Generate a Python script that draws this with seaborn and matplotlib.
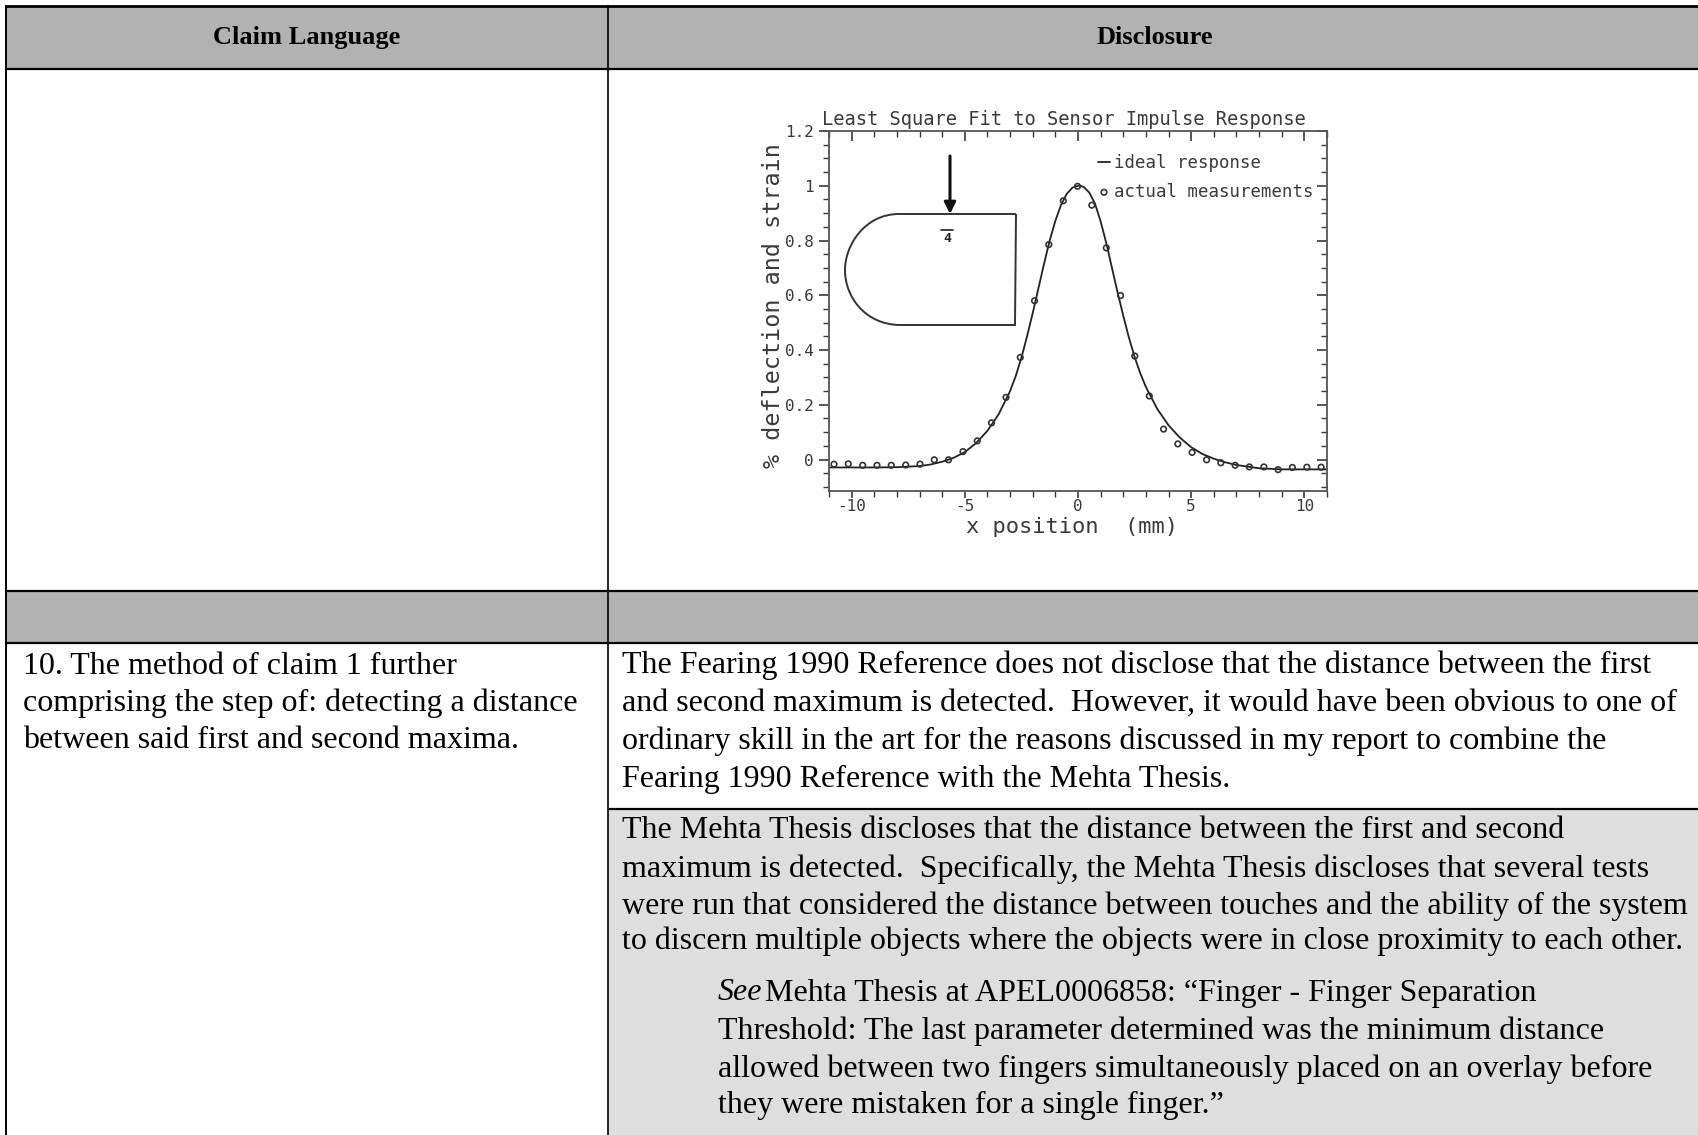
import matplotlib
matplotlib.use('Agg')
import matplotlib.pyplot as plt
from matplotlib.path import Path
from matplotlib.patches import PathPatch, Rectangle
from matplotlib.ticker import MultipleLocator
import pandas as pd
import seaborn as sns

# measured points
meas_x = [-10.78, -10.15, -9.51, -8.88, -8.25, -7.61, -6.98, -6.35, -5.72, -5.08, -4.45, -3.82,
          -3.18, -2.55, -1.92, -1.29, -0.65, -0.02, 0.61, 1.25, 1.88, 2.51, 3.15, 3.78, 4.41,
          5.04, 5.68, 6.31, 6.94, 7.57, 8.21, 8.84, 9.47, 10.11, 10.74]
meas_y = [-0.017, -0.016, -0.021, -0.021, -0.021, -0.020, -0.017, -0.001, -0.001, 0.029, 0.068, 0.134,
          0.227, 0.373, 0.580, 0.785, 0.945, 0.998, 0.929, 0.773, 0.599, 0.378, 0.232, 0.111, 0.057,
          0.026, -0.001, -0.012, -0.021, -0.027, -0.027, -0.037, -0.029, -0.028, -0.028]

# ideal response curve
ideal_x = [-10.95, -9, -8, -7, -6.5, -6, -5.5, -5, -4.5, -4, -3.5, -3, -2.75, -2.5, -2.25, -2, -1.75,
           -1.5, -1.25, -1, -0.75, -0.5, -0.25, 0, 0.1, 0.25, 0.5, 0.75, 1, 1.25, 1.5, 1.75, 2, 2.25,
           2.5, 2.75, 3, 3.5, 4, 4.5, 5, 5.5, 6, 6.5, 7, 8, 9, 10.95]
ideal_y = [-0.029, -0.029, -0.028, -0.024, -0.018, -0.008, 0.006, 0.027, 0.060, 0.105, 0.166, 0.250,
           0.305, 0.372, 0.450, 0.535, 0.625, 0.715, 0.800, 0.872, 0.930, 0.970, 0.993, 1.0, 1.0,
           0.996, 0.975, 0.935, 0.870, 0.790, 0.700, 0.610, 0.525, 0.445, 0.375, 0.315, 0.265, 0.185,
           0.125, 0.080, 0.045, 0.020, 0.003, -0.010, -0.020, -0.032, -0.036, -0.036]

ytick_vals = [0, 0.2, 0.4, 0.6, 0.8, 1, 1.2]
ytick_labels = ['0', '0.2', '0.4', '0.6', '0.8', '1', '1.2']
xtick_vals = [-10, -5, 0, 5, 10]
xtick_labels = ['-10', '-5', '0', '5', '10']

left_lines = ['10. The method of claim 1 further',
              'comprising the step of: detecting a distance',
              'between said first and second maxima.']
fearing_lines = ['The Fearing 1990 Reference does not disclose that the distance between the first',
                 'and second maximum is detected.  However, it would have been obvious to one of',
                 'ordinary skill in the art for the reasons discussed in my report to combine the',
                 'Fearing 1990 Reference with the Mehta Thesis.']
mehta_lines = ['The Mehta Thesis discloses that the distance between the first and second',
               'maximum is detected.  Specifically, the Mehta Thesis discloses that several tests',
               'were run that considered the distance between touches and the ability of the system',
               'to discern multiple objects where the objects were in close proximity to each other.']
quote_lines = ['Mehta Thesis at APEL0006858: \u201cFinger - Finger Separation',
               'Threshold: The last parameter determined was the minimum distance',
               'allowed between two fingers simultaneously placed on an overlay before',
               'they were mistaken for a single finger.\u201d']

sns.set_style('ticks')
plt.rcParams['font.family'] = ['Liberation Serif', 'DejaVu Serif']
plt.rcParams['text.color'] = 'black'

W, H = 1699, 1135
fig = plt.figure(figsize=(W / 100, H / 100), dpi=100, facecolor='white')

# page axes in pixels for the table
page = fig.add_axes([0, 0, 1, 1])
page.set_xlim(0, W)
page.set_ylim(H, 0)
page.axis('off')

HEADER = '#b2b2b2'
LIGHT = '#dedede'
page.add_patch(Rectangle((6, 6), W - 6, 63, fc=HEADER, ec='none'))
page.add_patch(Rectangle((6, 591), W - 6, 52, fc=HEADER, ec='none'))
page.add_patch(Rectangle((608, 809), W - 608, H - 809, fc=LIGHT, ec='none'))

for y in [5.5, 69, 591, 643, 809]:
    x0 = 608 if y == 809 else 5
    page.plot([x0, W], [y, y], color='black', lw=1.6 if y != 5.5 else 2, solid_capstyle='butt')
page.plot([6, 6], [5, H], color='black', lw=1.4, solid_capstyle='butt')
page.plot([608, 608], [5, H], color='black', lw=1.2, solid_capstyle='butt')

BODY = 23.05
page.text(307, 37.5, 'Claim Language', fontsize=19, fontweight='bold', ha='center', va='center')
page.text(1155, 38, 'Disclosure', fontsize=19, fontweight='bold', ha='center', va='center')
for line, y in zip(left_lines, [666, 703, 741]):
    page.text(23, y, line, fontsize=BODY, va='center')
for line, y in zip(fearing_lines, [665, 703, 741, 779]):
    page.text(622, y, line, fontsize=BODY, va='center')
for line, y in zip(mehta_lines, [831, 869, 906, 941]):
    page.text(622, y, line, fontsize=BODY, va='center')
page.text(718, 993, 'See', fontsize=BODY, fontstyle='italic', va='center')
page.text(765, 993, quote_lines[0], fontsize=BODY, va='center')
for line, y in zip(quote_lines[1:], [1031, 1069, 1105]):
    page.text(718, y, line, fontsize=BODY, va='center')

# the scanned plot
ax = fig.add_axes([829 / W, 1 - 491 / H, (1327 - 829) / W, (491 - 131) / H], facecolor='none')
INK = '#3a3a3a'
MONO = 'DejaVu Sans Mono'

ideal = pd.DataFrame({'x': ideal_x, 'y': ideal_y})
meas = pd.DataFrame({'x': meas_x, 'y': meas_y})
sns.lineplot(data=ideal, x='x', y='y', ax=ax, color='#222222', lw=1.3, label='ideal response', sort=False)
sns.scatterplot(data=meas, x='x', y='y', ax=ax, s=16, facecolor='none', edgecolor='#333333', linewidth=1.2,
                label='actual measurements', zorder=3)

ax.set_xlim(-11, 11)
ax.set_ylim(-0.115, 1.2)
ax.set_xticks(xtick_vals, xtick_labels, family=MONO, fontsize=11.5, color=INK)
ax.set_yticks(ytick_vals, ytick_labels, family=MONO, fontsize=11.5, color=INK)
ax.xaxis.set_minor_locator(MultipleLocator(1))
ax.yaxis.set_minor_locator(MultipleLocator(0.05))
ax.tick_params(which='major', length=7, width=1.2, color=INK, direction='out')
ax.tick_params(which='minor', length=4, width=1.0, color=INK, direction='out')
ax.tick_params(axis='x', which='major', length=5, pad=1)
ax.tick_params(axis='y', which='major', pad=4)
for sp in ax.spines.values():
    sp.set_visible(True)
    sp.set_color('#555555')
    sp.set_linewidth(1.3)
ax.set_xlabel('x position  (mm)', family=MONO, fontsize=15.8, color=INK, labelpad=2, x=0.488)
ax.set_ylabel('% deflection and strain', family=MONO, fontsize=16.8, color=INK, labelpad=0, y=0.515)
ax.set_title('Least Square Fit to Sensor Impulse Response', family=MONO, fontsize=13.5, color=INK, pad=4, x=0.472)

# inward ticks on the top and right sides
top = ax.secondary_xaxis('top')
top.set_xticks(xtick_vals, [])
top.xaxis.set_minor_locator(MultipleLocator(1))
top.tick_params(which='major', direction='in', length=7, width=1.2, color=INK)
top.tick_params(which='minor', direction='in', length=4, width=1.0, color=INK)
top.spines['top'].set_visible(False)
right = ax.secondary_yaxis('right')
right.set_yticks(ytick_vals, [])
right.yaxis.set_minor_locator(MultipleLocator(0.05))
right.tick_params(which='major', direction='in', length=7, width=1.2, color=INK)
right.tick_params(which='minor', direction='in', length=4, width=1.0, color=INK)
right.spines['right'].set_visible(False)

ax.legend(loc='upper left', bbox_to_anchor=(0.54, 0.935), frameon=False, handlelength=0.7, handletextpad=0.25,
          labelspacing=0.6, borderpad=0, borderaxespad=0,
          prop={'family': MONO, 'size': 12.5}, labelcolor=INK)

# the sensor sketch over the plot, page pixels
verts = [(1016, 214), (899, 214), (865, 214), (845, 245), (845, 270), (845, 297), (865, 324), (899, 325), (1015, 325), (1016, 214)]
codes = [Path.MOVETO, Path.LINETO, Path.CURVE4, Path.CURVE4, Path.CURVE4, Path.CURVE4, Path.CURVE4, Path.CURVE4, Path.LINETO, Path.LINETO]
page.add_patch(PathPatch(Path(verts, codes), fc='none', ec='#333333', lw=1.4, zorder=5))
page.annotate('', xy=(950, 214), xytext=(950, 156), zorder=6,
              arrowprops=dict(arrowstyle='-|>', lw=2.2, color='#111111', mutation_scale=17, shrinkA=0, shrinkB=0))
page.text(947, 238, '4', family=MONO, fontsize=9.5, fontweight='bold', ha='center', va='center', color='#222222')
page.plot([941, 953], [230, 230], color='#222222', lw=1.2)
page.set_xlim(0, W)
page.set_ylim(H, 0)
page.set_zorder(2)
page.patch.set_alpha(0)

fig.savefig('out.png', dpi=100)
